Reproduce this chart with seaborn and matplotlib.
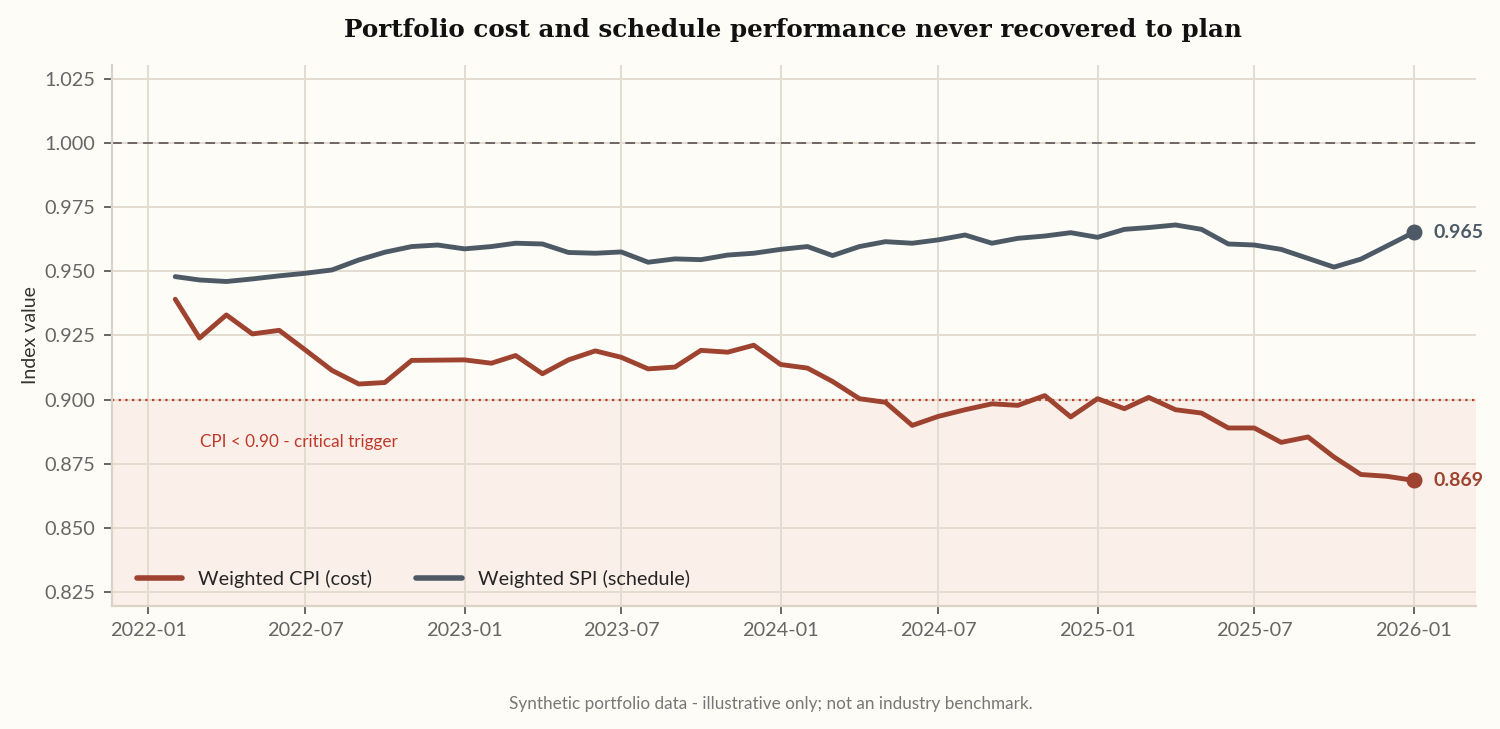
import matplotlib
matplotlib.use('Agg')
import matplotlib.pyplot as plt
import matplotlib.dates as mdates
import pandas as pd
import seaborn as sns

# Monthly portfolio indices
months = pd.date_range('2022-02-01', '2026-01-01', freq='MS')

cpi = [0.9391, 0.9240, 0.9330, 0.9256, 0.9270, 0.9194, 0.9114, 0.9061, 0.9067, 0.9153,
       0.9154, 0.9155, 0.9142, 0.9172, 0.9101, 0.9155, 0.9190, 0.9165, 0.9120, 0.9127,
       0.9192, 0.9185, 0.9212, 0.9137, 0.9123, 0.9071, 0.9004, 0.8990, 0.8900, 0.8935,
       0.8961, 0.8984, 0.8978, 0.9016, 0.8933, 0.9004, 0.8965, 0.9009, 0.8961, 0.8948,
       0.8890, 0.8890, 0.8834, 0.8855, 0.8777, 0.8709, 0.8702, 0.8686]

spi = [0.9479, 0.9466, 0.9460, 0.9470, 0.9482, 0.9492, 0.9505, 0.9544, 0.9574, 0.9596,
       0.9602, 0.9587, 0.9596, 0.9609, 0.9606, 0.9573, 0.9570, 0.9575, 0.9535, 0.9548,
       0.9545, 0.9563, 0.9570, 0.9585, 0.9596, 0.9561, 0.9596, 0.9615, 0.9609, 0.9622,
       0.9641, 0.9609, 0.9628, 0.9637, 0.9650, 0.9632, 0.9663, 0.9670, 0.9680, 0.9663,
       0.9606, 0.9602, 0.9585, 0.9550, 0.9516, 0.9547, 0.9598, 0.9651]

series_names = ['Weighted CPI (cost)', 'Weighted SPI (schedule)']
series_colors = ['#9e4330', '#4d5a66']
threshold = 0.90
plan = 1.00

df = pd.DataFrame({'date': months, series_names[0]: cpi, series_names[1]: spi})
long_df = df.melt(id_vars='date', var_name='series', value_name='index')

sns.set_theme(style='whitegrid')
plt.rcParams['font.family'] = ['Lato', 'DejaVu Sans']

bg = '#fdfcf7'
grid_c = '#e3ddd0'
fig, ax = plt.subplots(figsize=(15, 7.29), dpi=100)
fig.patch.set_facecolor(bg)
ax.set_facecolor(bg)

# critical zone
ax.axhspan(0.80, threshold, color='#f9ebe4', alpha=0.7, lw=0, zorder=0)
ax.axhline(threshold, color='#c0392b', lw=1.6, ls=(0, (1, 2)), zorder=1)
ax.axhline(plan, color='#6e6663', lw=1.4, ls=(0, (5, 3)), zorder=1)

sns.lineplot(data=long_df, x='date', y='index', hue='series', palette=series_colors,
             hue_order=series_names, lw=3.5, ax=ax, zorder=3)

# end points + labels
for name, col in zip(series_names, series_colors):
    last_x = df['date'].iloc[-1]
    last_y = df[name].iloc[-1]
    ax.scatter([last_x], [last_y], s=110, color=col, zorder=4)
    ax.annotate(f'{last_y:.3f}', (last_x, last_y), xytext=(14, 0), textcoords='offset points',
                va='center', ha='left', color=col, fontsize=14, fontweight='bold')

ax.text(pd.Timestamp('2022-03-01'), 0.8835, 'CPI < 0.90 - critical trigger',
        color='#c0392b', fontsize=12.3, ha='left', va='center')

ax.set_ylim(0.8198, 1.0303)
ax.set_xlim(pd.Timestamp('2021-11-20'), pd.Timestamp('2026-03-14'))
ax.set_yticks([0.825, 0.85, 0.875, 0.9, 0.925, 0.95, 0.975, 1.0, 1.025])
ax.yaxis.set_major_formatter(matplotlib.ticker.FormatStrFormatter('%.3f'))
ax.xaxis.set_major_locator(mdates.MonthLocator(bymonth=[1, 7]))
ax.xaxis.set_major_formatter(mdates.DateFormatter('%Y-%m'))

ax.grid(True, color=grid_c, lw=1.4)
ax.tick_params(axis='both', labelsize=14.3, colors='#666666', length=6, width=1.4,
               direction='out', bottom=True, left=True, pad=6)
for t in ax.get_xticklabels() + ax.get_yticklabels():
    t.set_color('#666666')
for s in ['top', 'right']:
    ax.spines[s].set_visible(False)
for s in ['left', 'bottom']:
    ax.spines[s].set_color('#ddd3c5')
    ax.spines[s].set_linewidth(1.6)

ax.set_xlabel('')
ax.set_ylabel('Index value', fontsize=14, color='#333333', labelpad=4)

leg = ax.legend(loc='lower left', ncol=2, frameon=False, fontsize=14.3,
                handlelength=2.3, columnspacing=2.2, bbox_to_anchor=(0.005, 0.0))
for line in leg.get_lines():
    line.set_linewidth(4)

fig.suptitle('Portfolio cost and schedule performance never recovered to plan',
             x=0.529, y=0.975, fontsize=17.7, fontweight='bold', family='DejaVu Serif', color='#111111')
fig.text(0.514, 0.034, 'Synthetic portfolio data - illustrative only; not an industry benchmark.',
         ha='center', va='center', fontsize=12.3, color='#777777')

fig.subplots_adjust(left=0.0747, right=0.984, top=0.911, bottom=0.169)
fig.savefig('out.png', dpi=100, facecolor=bg)
